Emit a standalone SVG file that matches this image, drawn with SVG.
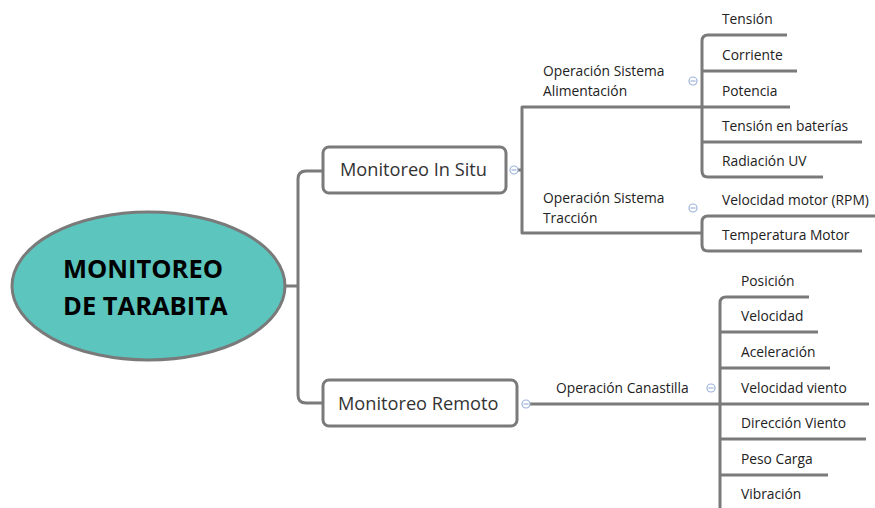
<svg xmlns="http://www.w3.org/2000/svg" width="875" height="508" viewBox="0 0 875 508">
<style>
.ln{fill:none;stroke:#7a7a7a;stroke-width:3;stroke-linejoin:round}
.box{fill:#fff;stroke:#7a7a7a;stroke-width:3}
.tg{fill:none;stroke:#9db3d9;stroke-width:1.2}
.t1{font-family:"Open Sans","Noto Sans",sans-serif;font-size:18.2px;fill:#333}
.t2{font-family:"Open Sans","Noto Sans",sans-serif;font-size:13.8px;fill:#222}
.t3{font-family:"Open Sans","Noto Sans",sans-serif;font-size:13.8px;fill:#222}
.root{font-family:"Open Sans","Noto Sans",sans-serif;font-size:25.5px;font-weight:bold;fill:#000}
</style>
<rect width="875" height="508" fill="#fff"/>
<g id="connectors">
<path class="ln" d="M285,286 H298 M323,171 H306 Q298,171 298,179 V395 Q298,403 306,403 H323"/>
<path class="ln" d="M518,170 H522 M702,107 H522 V233 H702"/>
<path class="ln" d="M787,35 H708 Q702,35 702,41 V171 Q702,177 708,177 H823 M702,71 H797 M702,107 H790 M702,142 H862"/>
<path class="ln" d="M875,216 H708 Q702,216 702,222 V245 Q702,251 708,251 H862 M702,233 H702"/>
<path class="ln" d="M530,404 H720 M809,297 H726 Q720,297 720,303 V510 M720,332 H818 M720,368 H830 M720,404 H869 M720,439 H866 M720,475 H828"/>
</g>
<g id="root">
<ellipse cx="148.5" cy="286" rx="136.5" ry="74" fill="#5bc5be" stroke="#7a7a7a" stroke-width="3"/>
<text class="root" x="63" y="278">MONITOREO</text>
<text class="root" x="63" y="315">DE TARABITA</text>
</g>
<g id="insitu">
<rect class="box" x="323" y="147" width="183" height="46" rx="6"/>
<text class="t1" x="340" y="176">Monitoreo In Situ</text>
<circle class="tg" cx="514" cy="170" r="4"/><path class="tg" d="M511.5,170 H516.5"/>
</g>
<g id="remoto">
<rect class="box" x="323" y="380" width="194" height="46" rx="6"/>
<text class="t1" x="338" y="410">Monitoreo Remoto</text>
<circle class="tg" cx="526" cy="404" r="4"/><path class="tg" d="M523.5,404 H528.5"/>
</g>
<g id="alimentacion">
<text class="t3" x="543" y="76">Operación Sistema</text>
<text class="t3" x="543" y="96">Alimentación</text>
<circle class="tg" cx="693" cy="81" r="4"/><path class="tg" d="M690.5,81 H695.5"/>
</g>
<g id="traccion">
<text class="t3" x="543" y="203">Operación Sistema</text>
<text class="t3" x="543" y="223">Tracción</text>
<circle class="tg" cx="693" cy="208" r="4"/><path class="tg" d="M690.5,208 H695.5"/>
</g>
<g id="canastilla">
<text class="t3" x="556" y="393">Operación Canastilla</text>
<circle class="tg" cx="711" cy="388" r="4"/><path class="tg" d="M708.5,388 H713.5"/>
</g>
<g id="leaves-insitu">
<text class="t2" x="722" y="24">Tensión</text>
<text class="t2" x="722" y="60">Corriente</text>
<text class="t2" x="722" y="96">Potencia</text>
<text class="t2" x="722" y="131">Tensión en baterías</text>
<text class="t2" x="722" y="166">Radiación UV</text>
<text class="t2" x="722" y="205">Velocidad motor (RPM)</text>
<text class="t2" x="722" y="240">Temperatura Motor</text>
</g>
<g id="leaves-remoto">
<text class="t2" x="741" y="286">Posición</text>
<text class="t2" x="741" y="321">Velocidad</text>
<text class="t2" x="741" y="357">Aceleración</text>
<text class="t2" x="741" y="393">Velocidad viento</text>
<text class="t2" x="741" y="428">Dirección Viento</text>
<text class="t2" x="741" y="464">Peso Carga</text>
<text class="t2" x="741" y="499">Vibración</text>
</g>
</svg>
